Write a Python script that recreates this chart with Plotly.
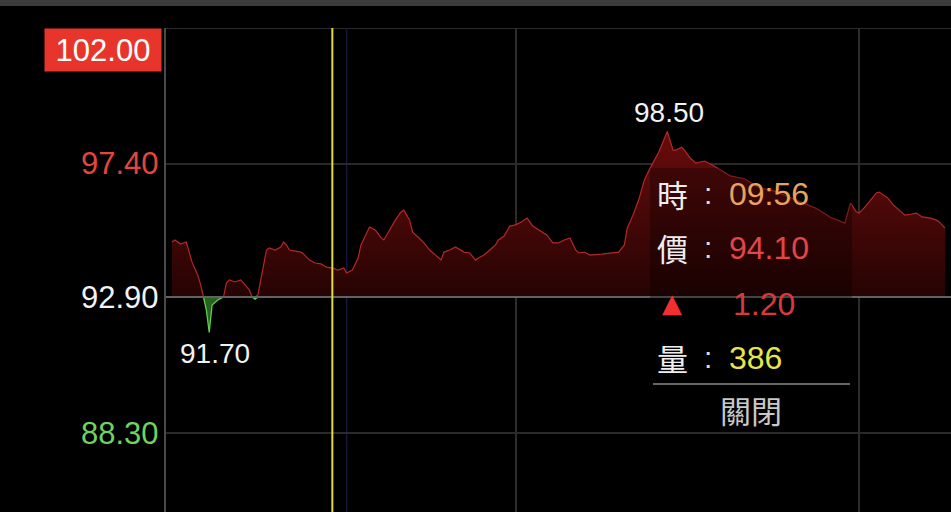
import plotly.graph_objects as go

# ---------------- data (minutes after 09:00 open, price) ----------------
minutes = [0, 1, 3, 5, 7, 9, 10, 11, 12, 13, 14, 16, 18, 19, 20, 22, 24, 25, 27, 28,
           29, 30, 31, 33, 34, 36, 38, 39, 40, 41, 45, 46, 48, 50, 52, 54, 56, 58, 60, 61,
           63, 65, 66, 68, 69, 71, 73, 74, 76, 78, 80, 81, 83, 84, 87, 88, 90, 92, 94, 95,
           97, 99, 101, 102, 104, 106, 107, 109, 111, 113, 114, 116, 118, 120, 122, 123, 124, 126, 128, 131,
           133, 135, 137, 139, 141, 142, 144, 146, 150, 153, 156, 158, 159, 161, 163, 165, 167, 170, 173, 175,
           176, 178, 179, 181, 183, 186, 189, 195, 200, 205, 210, 215, 220, 225, 230, 235, 237, 239, 240, 242,
           244, 246, 247, 249, 250, 252, 254, 256, 258, 260, 262, 265, 267, 268, 270]
prices = [94.76, 94.83, 94.69, 94.76, 94.08, 93.64, 93.31, 92.90, 92.46, 91.70, 92.63, 92.80, 92.90, 93.37, 93.48, 93.41, 93.48, 93.37, 93.14, 92.90,
          92.83, 92.97, 93.48, 94.49, 94.56, 94.49, 94.59, 94.76, 94.66, 94.49, 94.42, 94.35, 94.15, 94.05, 94.02, 93.91, 93.88, 93.81, 93.88, 93.71,
          93.81, 94.22, 94.66, 95.07, 95.27, 95.17, 94.90, 94.83, 95.17, 95.50, 95.78, 95.84, 95.50, 95.10, 94.83, 94.73, 94.49, 94.32, 94.15, 94.42,
          94.49, 94.59, 94.49, 94.42, 94.39, 94.15, 94.22, 94.32, 94.49, 94.66, 94.83, 94.96, 95.30, 95.34, 95.44, 95.50, 95.57, 95.30, 95.17, 94.99,
          94.73, 94.73, 94.83, 94.90, 94.49, 94.39, 94.42, 94.32, 94.35, 94.39, 94.42, 94.66, 95.23, 95.67, 96.18, 96.86, 97.26, 97.80, 98.50, 97.87,
          97.87, 97.97, 97.87, 97.60, 97.43, 97.50, 97.35, 97.00, 96.90, 96.60, 96.50, 96.30, 96.10, 95.90, 95.60, 95.40, 96.08, 95.78, 95.74, 95.94,
          96.18, 96.42, 96.45, 96.32, 96.25, 96.01, 95.84, 95.67, 95.70, 95.74, 95.61, 95.57, 95.50, 95.44, 95.23]

ref_price = 92.90          # previous close
limit_up = 102.00
upper_mid = 97.40
lower_mid = 88.30
axis_labels = ["102.00", "97.40", "92.90", "88.30"]
grid_minutes = [120, 240]

cursor_minute = 56
tip_time = "09:56"
tip_price = "94.10"
tip_change = "1.20"
tip_volume = "386"

# ---------------- figure ----------------
W, H = 951, 512
L, T = 166, 28
PW, PH = W - L, H - T

def px(x):
    return (x - L) / PW

def py(y):
    return (H - y) / PH

up = [max(p, ref_price) for p in prices]
dn = [min(p, ref_price) for p in prices]
base = [ref_price] * len(minutes)

NUM = "Liberation Sans, Arial, sans-serif"
CJK = "Noto Sans CJK TC, sans-serif"

fig = go.Figure()
fig.add_trace(go.Scatter(x=minutes, y=base, mode="lines", line=dict(width=0), hoverinfo="skip", showlegend=False))
fig.add_trace(go.Scatter(x=minutes, y=up, mode="lines", line=dict(color="#b42828", width=1.2),
                         fill="tonexty",
                         fillgradient=dict(type="vertical", start=ref_price, stop=max(prices),
                                           colorscale=[[0, "rgb(38,3,3)"], [1, "rgb(105,12,12)"]]),
                         hoverinfo="skip", showlegend=False))
fig.add_trace(go.Scatter(x=minutes, y=base, mode="lines", line=dict(width=0), hoverinfo="skip", showlegend=False))
fig.add_trace(go.Scatter(x=minutes, y=dn, mode="lines", line=dict(color="#5fcf4f", width=1.3),
                         fill="tonexty", fillcolor="rgba(60,150,50,0.65)",
                         hoverinfo="skip", showlegend=False))

shapes = []
# top gray bar
shapes.append(dict(type="rect", xref="paper", yref="paper", x0=px(0), x1=px(W), y0=py(6), y1=py(0),
                   fillcolor="#3c3c3c", line=dict(width=0), layer="above"))
# top gridline
shapes.append(dict(type="line", xref="paper", yref="y", x0=0, x1=1, y0=limit_up, y1=limit_up,
                   line=dict(color="#3a3a3a", width=1.5), layer="below"))
# reference line
shapes.append(dict(type="line", xref="paper", yref="y", x0=0, x1=1, y0=ref_price, y1=ref_price,
                   line=dict(color="#626262", width=2), layer="above"))
# faint marker line
shapes.append(dict(type="line", xref="x", yref="paper", x0=cursor_minute + 5, x1=cursor_minute + 5, y0=0, y1=1,
                   line=dict(color="#16163a", width=1.5), layer="below"))
# crosshair
shapes.append(dict(type="line", xref="x", yref="paper", x0=cursor_minute, x1=cursor_minute, y0=0, y1=1,
                   line=dict(color="#e2dc3a", width=2), layer="above"))
# tooltip background
shapes.append(dict(type="rect", xref="paper", yref="paper", x0=px(650), x1=px(852), y0=py(432), y1=py(168),
                   fillcolor="rgba(0,0,0,0.3)", line=dict(width=0), layer="above"))
# tooltip separator
shapes.append(dict(type="line", xref="paper", yref="paper", x0=px(653), x1=px(850), y0=py(384), y1=py(384),
                   line=dict(color="#8a8a8a", width=1.5), layer="above"))

ann = []
# y labels
ann.append(dict(xref="paper", yref="paper", x=px(162), y=py(28), xanchor="right", yanchor="top",
                text=axis_labels[0], showarrow=False, bgcolor="#e8352b", borderpad=2,
                width=112, height=38, align="center",
                font=dict(family=NUM, size=31, color="#ffffff")))
ann.append(dict(xref="paper", yref="y", x=px(161), y=upper_mid, xanchor="right", yanchor="middle",
                text=axis_labels[1], showarrow=False, font=dict(family=NUM, size=31, color="#e2463c")))
ann.append(dict(xref="paper", yref="y", x=px(161), y=ref_price, xanchor="right", yanchor="middle",
                text=axis_labels[2], showarrow=False, font=dict(family=NUM, size=31, color="#f2f2f2")))
ann.append(dict(xref="paper", yref="y", x=px(161), y=lower_mid, xanchor="right", yanchor="middle",
                text=axis_labels[3], showarrow=False, font=dict(family=NUM, size=31, color="#6fd35e")))

# high / low labels
i_hi = prices.index(max(prices))
i_lo = prices.index(min(prices))
ann.append(dict(x=minutes[i_hi], y=prices[i_hi], xref="x", yref="y", text=f"{prices[i_hi]:.2f}",
                showarrow=False, yshift=19, xshift=2, font=dict(family=NUM, size=28, color="#f2f2f2")))
ann.append(dict(x=minutes[i_lo], y=prices[i_lo], xref="x", yref="y", text=f"{prices[i_lo]:.2f}",
                showarrow=False, yshift=-21, xshift=6, font=dict(family=NUM, size=28, color="#f2f2f2")))

# tooltip
rows = [(193, "時", ":", tip_time, "#e8a35c"),
        (247, "價", ":", tip_price, "#e0464a"),
        (357, "量", ":", tip_volume, "#e6e64c")]
for y, k, c, v, col in rows:
    ann.append(dict(xref="paper", yref="paper", x=px(672), y=py(y), text=k, showarrow=False,
                    xanchor="center", yanchor="middle", font=dict(family=CJK, size=31, color="#eeeeee")))
    ann.append(dict(xref="paper", yref="paper", x=px(708), y=py(y), text=c, showarrow=False,
                    xanchor="center", yanchor="middle", font=dict(family=NUM, size=30, color="#dddddd")))
    ann.append(dict(xref="paper", yref="paper", x=px(727), y=py(y + 1), text=v, showarrow=False,
                    xanchor="left", yanchor="middle", font=dict(family=NUM, size=32, color=col)))
ann.append(dict(xref="paper", yref="paper", x=px(672), y=py(303), text="▲", showarrow=False,
                xanchor="center", yanchor="middle", font=dict(family="DejaVu Sans", size=26, color="#f03030")))
ann.append(dict(xref="paper", yref="paper", x=px(731), y=py(304), text=tip_change, showarrow=False,
                xanchor="left", yanchor="middle", font=dict(family=NUM, size=32, color="#d83a3a")))
ann.append(dict(xref="paper", yref="paper", x=px(751), y=py(409), text="關閉", showarrow=False,
                xanchor="center", yanchor="middle", font=dict(family=CJK, size=31, color="#c8c8c8")))

x0 = -(172 - L) / 2.863
x1 = 270 + (W - 945) / 2.863
y_bottom = lower_mid - (H - 433) / ((433 - 28) / (limit_up - lower_mid))

fig.update_layout(
    width=W, height=H,
    margin=dict(l=L, r=0, t=T, b=0),
    paper_bgcolor="#000000", plot_bgcolor="#000000",
    hovermode=False,
    shapes=shapes, annotations=ann,
    xaxis=dict(range=[x0, x1], tickvals=grid_minutes, showticklabels=False, showgrid=True,
               gridcolor="#2c2c2c", gridwidth=1.5, zeroline=False, showline=False, fixedrange=True),
    yaxis=dict(range=[y_bottom, limit_up], tickvals=[lower_mid, upper_mid], showticklabels=False,
               showgrid=True, gridcolor="#2a2a2a", gridwidth=1.5, zeroline=False,
               showline=True, linecolor="#4a4a4a", linewidth=1.5, fixedrange=True),
)

fig.write_html("out.html", config={"displayModeBar": False},
               post_script="document.body.style.margin='0';document.body.style.background='#000';")
